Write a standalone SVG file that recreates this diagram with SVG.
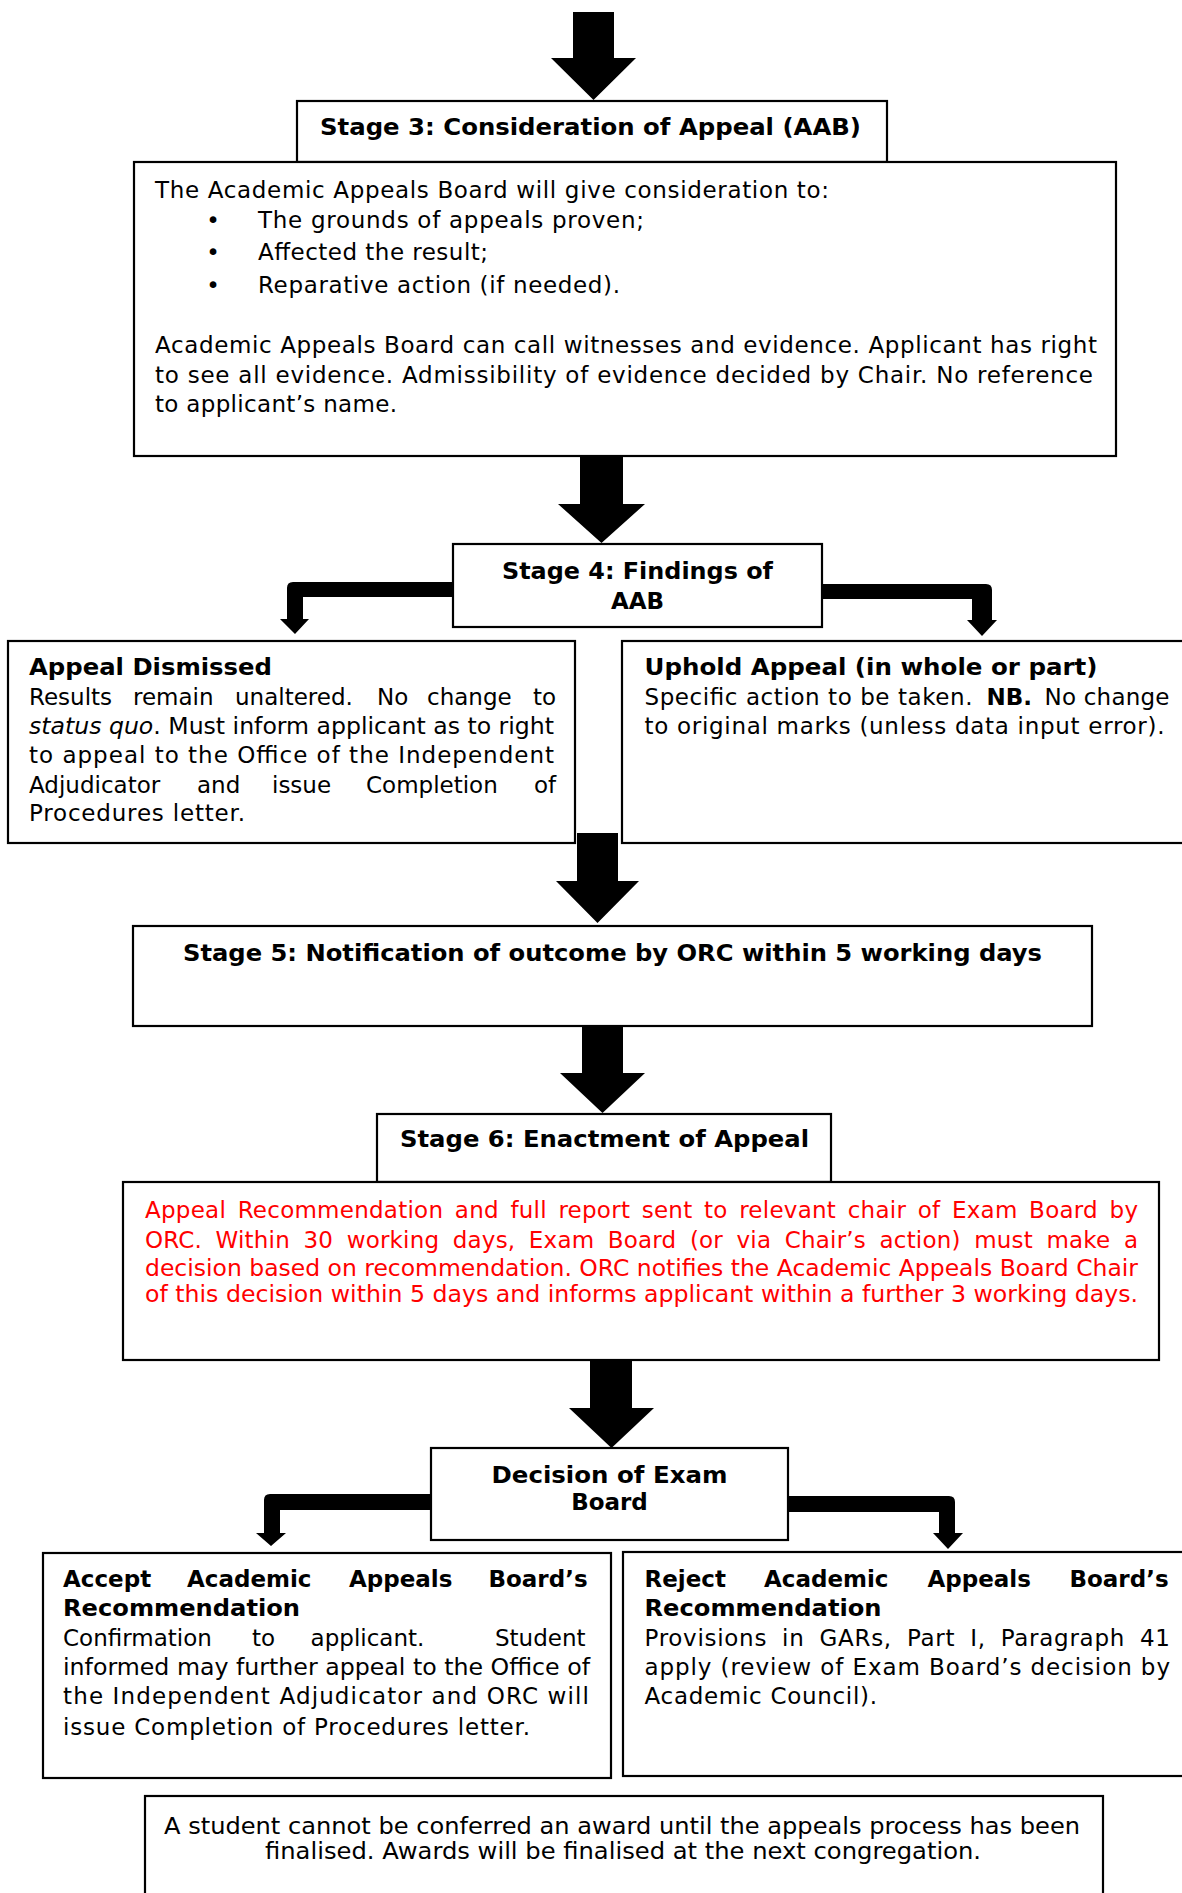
<svg xmlns="http://www.w3.org/2000/svg" width="1182" height="1893" viewBox="0 0 1182 1893">
<style>
.box{fill:#fff;stroke:#000;stroke-width:2.2}
.t{font-family:"DejaVu Sans",Verdana,sans-serif;font-size:23px;fill:#000}
.b{font-weight:bold}
.i{font-style:italic}
.red{fill:#ff0000}
.arr{fill:#000;stroke:none}
</style>
<rect x="0" y="0" width="1182" height="1893" fill="#fff"/>

<g id="stage3">
<rect class="box" x="297" y="101" width="590" height="61"/>
<text class="t b" x="320" y="135" textLength="541" lengthAdjust="spacingAndGlyphs">Stage 3: Consideration of Appeal (AAB)</text>
</g>

<g id="aab-consideration">
<rect class="box" x="134" y="162" width="982" height="294"/>
<text class="t" x="155" y="198" textLength="674" lengthAdjust="spacing">The Academic Appeals Board will give consideration to:</text>
<text class="t" x="213" y="228" text-anchor="middle">•</text>
<text class="t" x="258" y="228" textLength="386" lengthAdjust="spacing">The grounds of appeals proven;</text>
<text class="t" x="213" y="260" text-anchor="middle">•</text>
<text class="t" x="258" y="260" textLength="230" lengthAdjust="spacing">Affected the result;</text>
<text class="t" x="213" y="293" text-anchor="middle">•</text>
<text class="t" x="258" y="293" textLength="362" lengthAdjust="spacing">Reparative action (if needed).</text>
<text class="t" x="155" y="353" textLength="942" lengthAdjust="spacing">Academic Appeals Board can call witnesses and evidence. Applicant has right</text>
<text class="t" x="155" y="383" textLength="938" lengthAdjust="spacing">to see all evidence. Admissibility of evidence decided by Chair. No reference</text>
<text class="t" x="155" y="412" textLength="242" lengthAdjust="spacing">to applicant’s name.</text>
</g>

<g id="stage4">
<rect class="box" x="453" y="544" width="369" height="83"/>
<text class="t b" x="637.5" y="579" text-anchor="middle" textLength="271" lengthAdjust="spacingAndGlyphs">Stage 4: Findings of</text>
<text class="t b" x="637.5" y="609" text-anchor="middle">AAB</text>
</g>

<g id="appeal-dismissed">
<rect class="box" x="8" y="641" width="567" height="202"/>
<text class="t b" x="29" y="675" textLength="243" lengthAdjust="spacingAndGlyphs">Appeal Dismissed</text>
<text class="t" y="705"><tspan x="29">Results</tspan><tspan x="133">remain</tspan><tspan x="235">unaltered.</tspan><tspan x="377">No</tspan><tspan x="427">change</tspan><tspan x="533">to</tspan></text>
<text class="t" x="29" y="734" textLength="525" lengthAdjust="spacingAndGlyphs"><tspan class="i">status quo</tspan>. Must inform applicant as to right</text>
<text class="t" x="29" y="763" textLength="525" lengthAdjust="spacing">to appeal to the Office of the Independent</text>
<text class="t" y="793"><tspan x="29">Adjudicator</tspan><tspan x="197">and</tspan><tspan x="272">issue</tspan><tspan x="366">Completion</tspan><tspan x="534">of</tspan></text>
<text class="t" x="29" y="821" textLength="216" lengthAdjust="spacing">Procedures letter.</text>
</g>

<g id="uphold-appeal">
<rect class="box" x="622" y="641" width="580" height="202"/>
<text class="t b" x="644.5" y="675" textLength="453" lengthAdjust="spacingAndGlyphs">Uphold Appeal (in whole or part)</text>
<text class="t" x="644.5" y="705" textLength="328" lengthAdjust="spacing">Specific action to be taken.</text>
<text class="t b" x="986.5" y="705">NB.</text>
<text class="t" x="1044.5" y="705" textLength="125" lengthAdjust="spacing">No change</text>
<text class="t" x="644.5" y="734" textLength="520" lengthAdjust="spacing">to original marks (unless data input error).</text>
</g>

<g id="stage5">
<rect class="box" x="133" y="926" width="959" height="100"/>
<text class="t b" x="183" y="961" textLength="859" lengthAdjust="spacingAndGlyphs">Stage 5: Notification of outcome by ORC within 5 working days</text>
</g>

<g id="stage6">
<rect class="box" x="377" y="1114" width="454" height="68"/>
<text class="t b" x="400" y="1147" textLength="409" lengthAdjust="spacingAndGlyphs">Stage 6: Enactment of Appeal</text>
</g>

<g id="enactment-details">
<rect class="box" x="123" y="1182" width="1036" height="178"/>
<text class="t red" x="145" y="1218" word-spacing="4" textLength="993" lengthAdjust="spacing">Appeal Recommendation and full report sent to relevant chair of Exam Board by</text>
<text class="t red" x="145" y="1248" word-spacing="6" textLength="993" lengthAdjust="spacing">ORC. Within 30 working days, Exam Board (or via Chair’s action) must make a</text>
<text class="t red" x="145" y="1276" textLength="993" lengthAdjust="spacingAndGlyphs">decision based on recommendation. ORC notifies the Academic Appeals Board Chair</text>
<text class="t red" x="145" y="1302" textLength="993" lengthAdjust="spacingAndGlyphs">of this decision within 5 days and informs applicant within  a further 3 working days.</text>
</g>

<g id="decision">
<rect class="box" x="431" y="1448" width="357" height="92"/>
<text class="t b" x="609.5" y="1483" text-anchor="middle" textLength="236" lengthAdjust="spacingAndGlyphs">Decision of Exam</text>
<text class="t b" x="609.5" y="1510" text-anchor="middle">Board</text>
</g>

<g id="accept">
<rect class="box" x="43" y="1553" width="568" height="225"/>
<text class="t b" y="1587"><tspan x="63">Accept</tspan><tspan x="187">Academic</tspan><tspan x="349">Appeals</tspan><tspan x="488.5">Board’s</tspan></text>
<text class="t b" x="63" y="1616" textLength="237" lengthAdjust="spacingAndGlyphs">Recommendation</text>
<text class="t" y="1646"><tspan x="63">Confirmation</tspan><tspan x="252">to</tspan><tspan x="310.6">applicant.</tspan><tspan x="495">Student</tspan></text>
<text class="t" x="63" y="1675" textLength="527" lengthAdjust="spacingAndGlyphs">informed may further appeal to the Office of</text>
<text class="t" x="63" y="1704" textLength="526" lengthAdjust="spacing">the Independent Adjudicator and ORC will</text>
<text class="t" x="63" y="1735" textLength="467" lengthAdjust="spacing">issue Completion of Procedures letter.</text>
</g>

<g id="reject">
<rect class="box" x="623" y="1552" width="580" height="224"/>
<text class="t b" y="1587"><tspan x="644.5">Reject</tspan><tspan x="764">Academic</tspan><tspan x="927.5">Appeals</tspan><tspan x="1069.5">Board’s</tspan></text>
<text class="t b" x="644.5" y="1616" textLength="237" lengthAdjust="spacingAndGlyphs">Recommendation</text>
<text class="t" x="644.5" y="1646" word-spacing="7" textLength="525.5" lengthAdjust="spacing">Provisions in GARs, Part I, Paragraph 41</text>
<text class="t" x="644.5" y="1675" textLength="525.5" lengthAdjust="spacing">apply (review of Exam Board’s decision by</text>
<text class="t" x="644.5" y="1704" textLength="232.5" lengthAdjust="spacing">Academic Council).</text>
</g>

<g id="note">
<rect class="box" x="145" y="1796" width="958" height="110"/>
<text class="t" x="622" y="1834" text-anchor="middle" textLength="916" lengthAdjust="spacingAndGlyphs">A student cannot be conferred an award until the appeals process has been</text>
<text class="t" x="623" y="1859" text-anchor="middle" textLength="716" lengthAdjust="spacingAndGlyphs">finalised. Awards will be finalised at the next congregation.</text>
</g>

<g id="connectors">
<path class="arr" d="M573,12 H614 V58 H636 L593.5,100 L551,58 H573 Z"/>
<path class="arr" d="M580,456 H623 V504 H645 L601.5,543 L558,504 H580 Z"/>
<path class="arr" d="M453,582 H293 Q287,582 287,588 V619 H280 L295,634 L309,619 H303 V597 H453 Z"/>
<path class="arr" d="M822,584 H986 Q992,584 992,590 V620 H997 L982,636 L967,620 H972 V599 H822 Z"/>
<path class="arr" d="M577,833 H618 V881 H639 L597.5,923 L556,881 H577 Z"/>
<path class="arr" d="M582,1026 H623 V1073 H645 L602.5,1113 L560,1073 H582 Z"/>
<path class="arr" d="M590,1360 H632 V1408 H654 L611.5,1448 L569,1408 H590 Z"/>
<path class="arr" d="M431,1494 H270 Q264,1494 264,1500 V1533 H256 L271,1546 L286,1533 H280 V1510 H431 Z"/>
<path class="arr" d="M788,1496 H949 Q955,1496 955,1502 V1533 H963 L948,1549 L933,1533 H939 V1512 H788 Z"/>
</g>
</svg>
